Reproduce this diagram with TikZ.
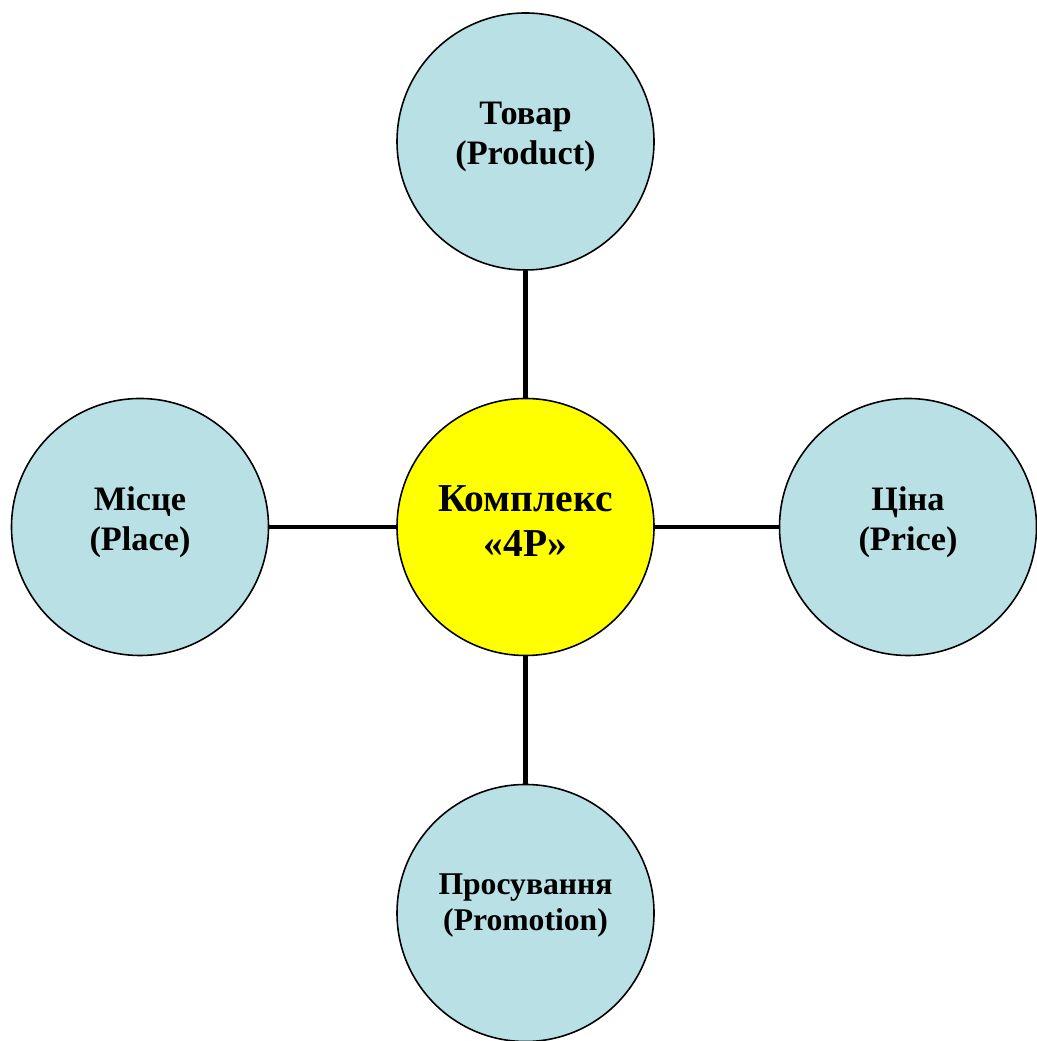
\documentclass[tikz,border=0pt]{standalone}
\usepackage{fontspec}
\setmainfont{Liberation Serif}
\definecolor{circblue}{HTML}{B9E0E4}
\definecolor{circyellow}{HTML}{FFFF00}
\tikzset{
  pcircle/.style={circle, draw=black, line width=0.9pt, fill=circblue,
    minimum size=5.14cm, inner sep=0pt, align=center, text depth=9.5pt,
    font=\fontsize{19.5}{22.5}\selectfont\bfseries},
  link/.style={line width=2.3pt}
}
\begin{document}
\begin{tikzpicture}
\useasboundingbox (0,0) rectangle (20.72,20.82);
% centre of the mix
\node[pcircle, fill=circyellow, text depth=7pt,
  font=\fontsize{22.5}{25.5}\selectfont\bfseries]
  (mix) at (10.51,10.28) {Комплекс\\«4P»};
% the four P
\node[pcircle] (product) at (10.51,17.99) {Товар\\(Product)};
\node[pcircle] (place) at (2.80,10.28) {Місце\\(Place)};
\node[pcircle] (price) at (18.16,10.28) {Ціна\\(Price)};
\node[pcircle, text depth=12pt, font=\fontsize{18}{20.5}\selectfont\bfseries]
  (promotion) at (10.51,2.56) {Просування\\(Promotion)};
\draw[link] (mix) -- (product);
\draw[link] (mix) -- (place);
\draw[link] (mix) -- (price);
\draw[link] (mix) -- (promotion);
\end{tikzpicture}
\end{document}
